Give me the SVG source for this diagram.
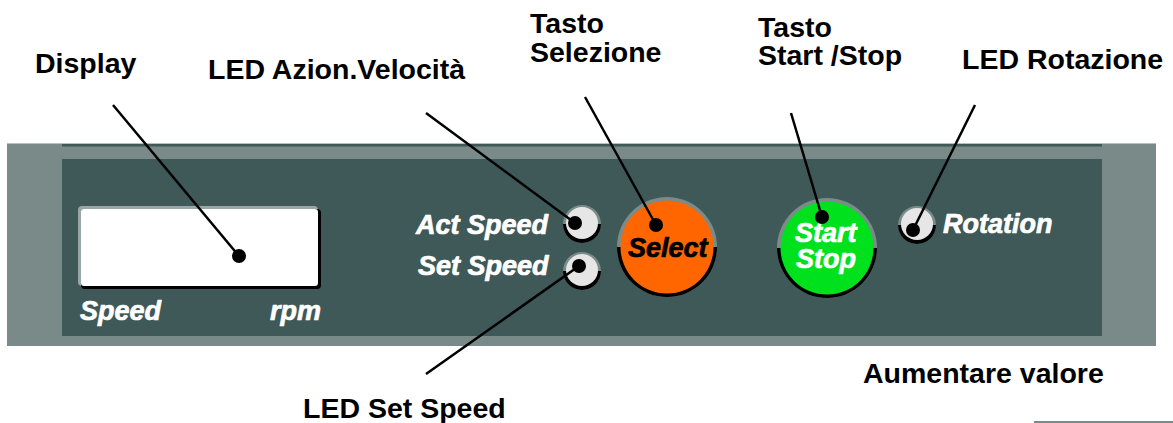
<svg xmlns="http://www.w3.org/2000/svg" width="1173" height="423" viewBox="0 0 1173 423">
<style>
.lbl{font-family:"Liberation Sans",Arial,sans-serif;font-weight:bold;font-size:28.5px;fill:#000}
.pt{font-family:"Liberation Sans",Arial,sans-serif;font-weight:bold;font-style:italic;font-size:27px;stroke-width:0.7px;stroke-linejoin:round}
.w{fill:#fff;stroke:#fff}
.k{fill:#000;stroke:#000}
.lead{stroke:#000;stroke-width:2.5;fill:none}
.dot{fill:#000}
.ring{fill:#7a8b89}
.shadow{fill:#000}
.ledface{fill:#e6e6e6}
</style>
<rect width="1173" height="423" fill="#fff"/>
<g id="panel">
<rect x="7" y="143" width="1149" height="203" fill="#7a8a88"/>
<rect x="7" y="143" width="1149" height="1" fill="#b8c0c0"/>
<rect x="62" y="144" width="1040" height="2.5" fill="#3f5858"/>
<rect x="62" y="159" width="1040" height="177" fill="#3f5858"/>
<rect x="1034" y="421" width="139" height="2" fill="#7a8a88"/>
</g>
<g id="display">
<rect x="78" y="206" width="240" height="80" rx="4" fill="#9aa6a5"/>
<rect x="81" y="209" width="240" height="80" rx="4" fill="#000"/>
<rect x="81" y="209" width="237" height="77" rx="3" fill="#fff"/>
<text class="pt w" x="80" y="320">Speed</text>
<text class="pt w" x="270" y="320">rpm</text>
</g>
<g id="led-act">
<circle class="ring" cx="582" cy="224" r="19"/>
<path class="shadow" d="M563 224 A19 19 0 0 0 601 224 Z"/>
<circle class="ledface" cx="582" cy="223" r="16"/>
<text class="pt w" x="416" y="234">Act Speed</text>
</g>
<g id="led-set">
<circle class="ring" cx="582" cy="271" r="19"/>
<path class="shadow" d="M563 271 A19 19 0 0 0 601 271 Z"/>
<circle class="ledface" cx="582" cy="270" r="16"/>
<text class="pt w" x="418" y="275">Set Speed</text>
</g>
<g id="btn-select">
<circle class="ring" cx="667" cy="247" r="50"/>
<path class="shadow" d="M617 247 A50 50 0 0 0 717 247 Z"/>
<circle cx="667" cy="247" r="46.5" fill="#ff6600"/>
<text class="pt k" x="628" y="257" font-size="28">Select</text>
</g>
<g id="btn-startstop">
<circle class="ring" cx="827" cy="248" r="50"/>
<path class="shadow" d="M777 248 A50 50 0 0 0 877 248 Z"/>
<circle cx="827" cy="248" r="46.5" fill="#00e11e"/>
<text class="pt w" x="795" y="242" font-size="26">Start</text>
<text class="pt w" x="796" y="268" font-size="26">Stop</text>
</g>
<g id="led-rotation">
<circle class="ring" cx="917" cy="225" r="19"/>
<path class="shadow" d="M898 225 A19 19 0 0 0 936 225 Z"/>
<circle class="ledface" cx="917" cy="224" r="16"/>
<text class="pt w" x="943" y="233">Rotation</text>
</g>
<g id="connectors">
<line class="lead" x1="113" y1="105" x2="239" y2="256"/>
<line class="lead" x1="426" y1="113" x2="575" y2="223"/>
<line class="lead" x1="585" y1="97" x2="656" y2="225"/>
<line class="lead" x1="791" y1="113" x2="822" y2="217"/>
<line class="lead" x1="975" y1="105" x2="913" y2="230"/>
<line class="lead" x1="426" y1="374" x2="579" y2="266"/>
<circle class="dot" cx="239" cy="256" r="7"/>
<circle class="dot" cx="575" cy="223" r="7"/>
<circle class="dot" cx="656" cy="225" r="7"/>
<circle class="dot" cx="822" cy="217" r="7"/>
<circle class="dot" cx="913" cy="230" r="7"/>
<circle class="dot" cx="579" cy="266" r="7"/>
</g>
<g id="labels">
<text class="lbl" x="35" y="73">Display</text>
<text class="lbl" x="208" y="79">LED Azion.Velocità</text>
<text class="lbl" x="530" y="33">Tasto</text>
<text class="lbl" x="530" y="62">Selezione</text>
<text class="lbl" x="758" y="37">Tasto</text>
<text class="lbl" x="758" y="65">Start /Stop</text>
<text class="lbl" x="962" y="69">LED Rotazione</text>
<text class="lbl" x="303" y="418">LED Set Speed</text>
<text class="lbl" x="863" y="383">Aumentare valore</text>
</g>
</svg>
